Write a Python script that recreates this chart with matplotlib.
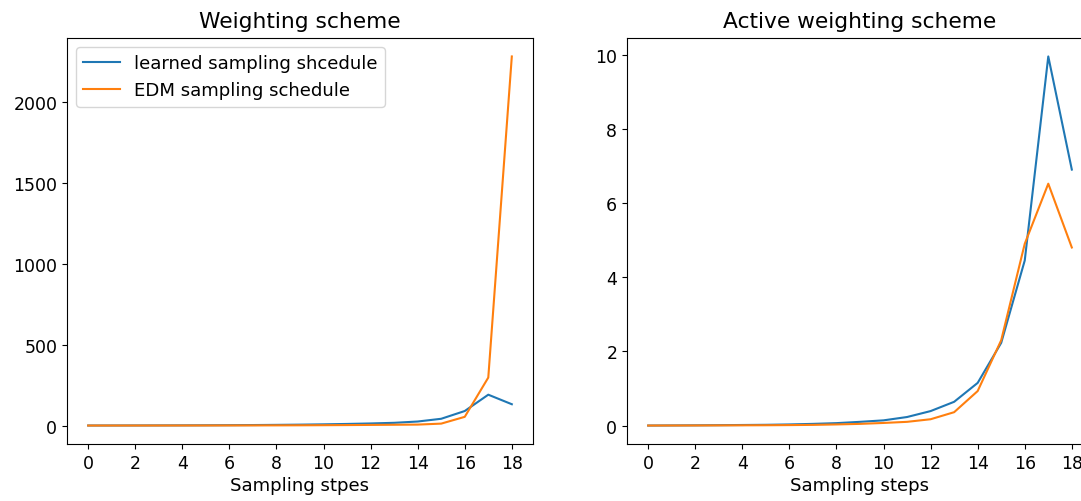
import matplotlib
matplotlib.use("Agg")
import matplotlib.pyplot as plt

steps = list(range(19))

# Left panel: weighting scheme
learned_weight = [0.3, 0.5, 0.7, 1.0, 1.3, 1.8, 2.4, 3.2, 4.3, 5.7, 7.6, 10, 13, 17, 25, 42, 90, 191, 132]
edm_weight = [0.1, 0.15, 0.2, 0.3, 0.4, 0.5, 0.7, 0.9, 1.2, 1.6, 2.2, 3, 4, 5, 6, 12, 54, 297, 2284]

# Right panel: active weighting scheme
learned_active = [0.0, 0.003, 0.006, 0.01, 0.015, 0.02, 0.03, 0.045, 0.065, 0.1, 0.14, 0.23, 0.39, 0.64, 1.15, 2.23, 4.45, 9.95, 6.9]
edm_active = [0.0, 0.001, 0.002, 0.004, 0.006, 0.008, 0.012, 0.018, 0.03, 0.045, 0.07, 0.1, 0.17, 0.36, 0.93, 2.3, 4.9, 6.52, 4.8]

xticks = list(range(0, 19, 2))

fig = plt.figure(figsize=(10.81, 5.02), dpi=100)
ax1 = fig.add_axes([67/1081, 57/502, 466/1081, 406/502])
ax2 = fig.add_axes([627/1081, 57/502, 466/1081, 406/502])

ax1.plot(steps, learned_weight, label="learned sampling shcedule")
ax1.plot(steps, edm_weight, label="EDM sampling schedule")
ax1.set_title("Weighting scheme", fontsize=15.7, pad=8)
ax1.set_xlabel("Sampling stpes", fontsize=13.1, labelpad=3)
ax1.set_xticks(xticks)
ax1.tick_params(labelsize=12.5)
ax1.legend(fontsize=13.1, loc="upper left")

ax2.plot(steps, learned_active)
ax2.plot(steps, edm_active)
ax2.set_title("Active weighting scheme", fontsize=15.7, pad=8)
ax2.set_xlabel("Sampling steps", fontsize=13.1, labelpad=3)
ax2.set_xticks(xticks)
ax2.tick_params(labelsize=12.5)

fig.savefig("out.png", dpi=100)
